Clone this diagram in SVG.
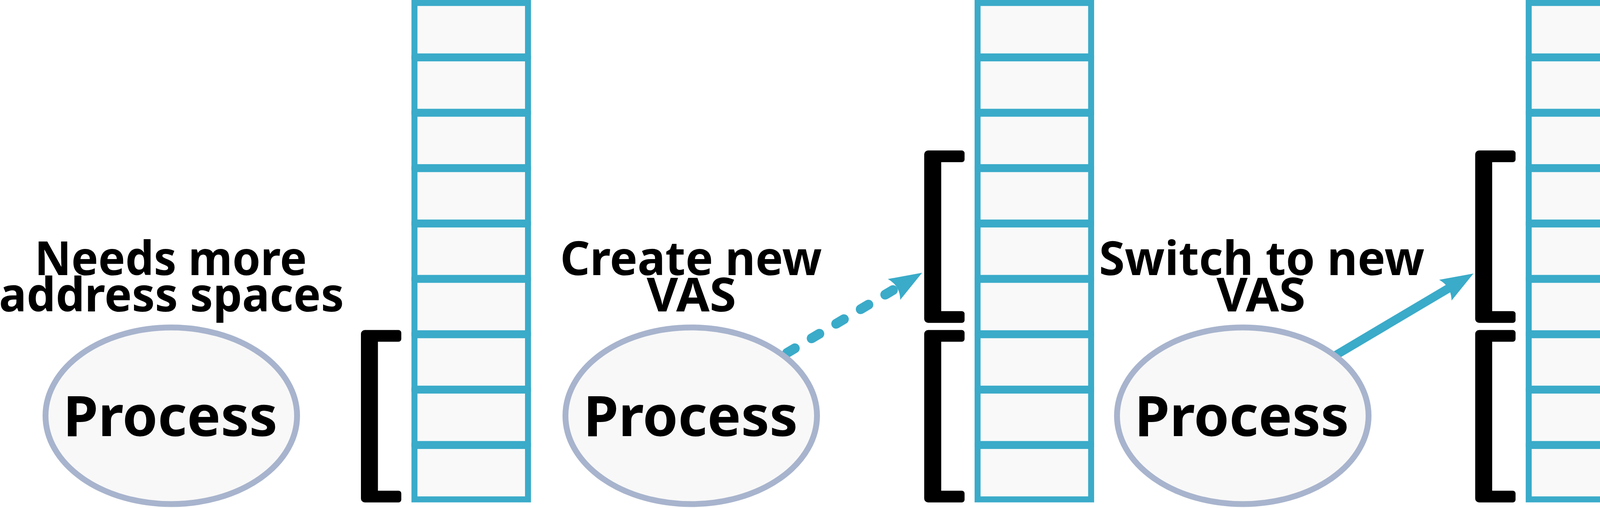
<svg xmlns="http://www.w3.org/2000/svg" xmlns:xlink="http://www.w3.org/1999/xlink" width="4212" height="1300" viewBox="0 0 4212 1300">
<style>
.cell{fill:#f9f9f9;stroke:#3aabc9;stroke-width:15.3}
.proc{fill:#f8f8f8;stroke:#a8b4cd;stroke-width:15}
.bracket{fill:#000}
.label{font-family:"Noto Sans","Open Sans","DejaVu Sans",sans-serif;font-weight:bold;font-size:120px;fill:#000;text-anchor:middle}
.ptext{font-family:"Noto Sans","Open Sans","DejaVu Sans",sans-serif;font-weight:bold;font-size:144px;fill:#000;text-anchor:middle}
.conn{fill:none;stroke:#3aabc9}
.dashed{stroke-width:25;stroke-linecap:round;stroke-dasharray:23 50}
.solid{stroke-width:22;stroke-linecap:butt}
</style>
<defs>
<marker id="head" markerUnits="userSpaceOnUse" orient="auto" refX="0" refY="0" markerWidth="200" markerHeight="200" overflow="visible">
<path d="M72,0 L-11.6,31 Q6.4,0 -11.6,-31 Z" fill="#3aabc9"/>
</marker>
<path id="brk" d="M10,0 H96.3 A7,7 0 0 1 103.3,7 V23 A7,7 0 0 1 96.3,30 H43.5 V411.1 H96.3 A7,7 0 0 1 103.3,418.1 V434.1 A7,7 0 0 1 96.3,441.1 H10 A10,10 0 0 1 0,431.1 V10 A10,10 0 0 1 10,0 Z"/>
</defs>
<rect width="4212" height="1300" fill="#ffffff"/>

<g id="connectors">
<path id="edge-create" class="conn dashed" d="M2015,903 L2298.7,734.8" marker-end="url(#head)"/>
<path id="edge-switch" class="conn solid" d="M3410.9,914.1 L3710.1,736.7" marker-end="url(#head)"/>
</g>

<g id="column-1" transform="translate(1061,0)">
<rect class="cell" x="0" y="7.65" width="290.7" height="136.7"/>
<rect class="cell" x="0" y="149.35" width="290.7" height="136.7"/>
<rect class="cell" x="0" y="291.05" width="290.7" height="136.7"/>
<rect class="cell" x="0" y="432.75" width="290.7" height="136.7"/>
<rect class="cell" x="0" y="574.45" width="290.7" height="136.7"/>
<rect class="cell" x="0" y="716.15" width="290.7" height="136.7"/>
<rect class="cell" x="0" y="857.85" width="290.7" height="136.7"/>
<rect class="cell" x="0" y="999.55" width="290.7" height="136.7"/>
<rect class="cell" x="0" y="1141.25" width="290.7" height="136.7"/>
</g>
<g id="column-2" transform="translate(2502.6,0)">
<rect class="cell" x="0" y="7.65" width="290.7" height="136.7"/>
<rect class="cell" x="0" y="149.35" width="290.7" height="136.7"/>
<rect class="cell" x="0" y="291.05" width="290.7" height="136.7"/>
<rect class="cell" x="0" y="432.75" width="290.7" height="136.7"/>
<rect class="cell" x="0" y="574.45" width="290.7" height="136.7"/>
<rect class="cell" x="0" y="716.15" width="290.7" height="136.7"/>
<rect class="cell" x="0" y="857.85" width="290.7" height="136.7"/>
<rect class="cell" x="0" y="999.55" width="290.7" height="136.7"/>
<rect class="cell" x="0" y="1141.25" width="290.7" height="136.7"/>
</g>
<g id="column-3" transform="translate(3913.5,0)">
<rect class="cell" x="0" y="7.65" width="290.7" height="136.7"/>
<rect class="cell" x="0" y="149.35" width="290.7" height="136.7"/>
<rect class="cell" x="0" y="291.05" width="290.7" height="136.7"/>
<rect class="cell" x="0" y="432.75" width="290.7" height="136.7"/>
<rect class="cell" x="0" y="574.45" width="290.7" height="136.7"/>
<rect class="cell" x="0" y="716.15" width="290.7" height="136.7"/>
<rect class="cell" x="0" y="857.85" width="290.7" height="136.7"/>
<rect class="cell" x="0" y="999.55" width="290.7" height="136.7"/>
<rect class="cell" x="0" y="1141.25" width="290.7" height="136.7"/>
</g>

<g id="bracket-1"><use xlink:href="#brk" class="bracket" x="924" y="844.6"/></g>
<g id="bracket-2a"><use xlink:href="#brk" class="bracket" x="2366" y="385.1"/></g>
<g id="bracket-2b"><use xlink:href="#brk" class="bracket" x="2366" y="844.6"/></g>
<g id="bracket-3a"><use xlink:href="#brk" class="bracket" x="3776.5" y="385.1"/></g>
<g id="bracket-3b"><use xlink:href="#brk" class="bracket" x="3776.5" y="844.6"/></g>

<g id="process-1">
<ellipse class="proc" cx="438.5" cy="1064" rx="322" ry="226"/>
<text class="ptext" x="436" y="1116" textLength="549" lengthAdjust="spacingAndGlyphs">Process</text>
</g>
<g id="process-2">
<ellipse class="proc" cx="1769.5" cy="1064" rx="322" ry="226"/>
<text class="ptext" x="1768" y="1116" textLength="549" lengthAdjust="spacingAndGlyphs">Process</text>
</g>
<g id="process-3">
<ellipse class="proc" cx="3181.5" cy="1064" rx="322" ry="226"/>
<text class="ptext" x="3179" y="1116" textLength="549" lengthAdjust="spacingAndGlyphs">Process</text>
</g>

<g id="label-1">
<text class="label" x="437" y="704" textLength="697" lengthAdjust="spacingAndGlyphs">Needs more</text>
<text class="label" x="439" y="796.5" textLength="883" lengthAdjust="spacingAndGlyphs">address spaces</text>
</g>
<g id="label-2">
<text class="label" x="1769" y="704" textLength="670" lengthAdjust="spacingAndGlyphs">Create new</text>
<text class="label" x="1770" y="796.5" textLength="229" lengthAdjust="spacingAndGlyphs">VAS</text>
</g>
<g id="label-3">
<text class="label" x="3230" y="704" textLength="833" lengthAdjust="spacingAndGlyphs">Switch to new</text>
<text class="label" x="3228" y="796.5" textLength="228" lengthAdjust="spacingAndGlyphs">VAS</text>
</g>
</svg>
